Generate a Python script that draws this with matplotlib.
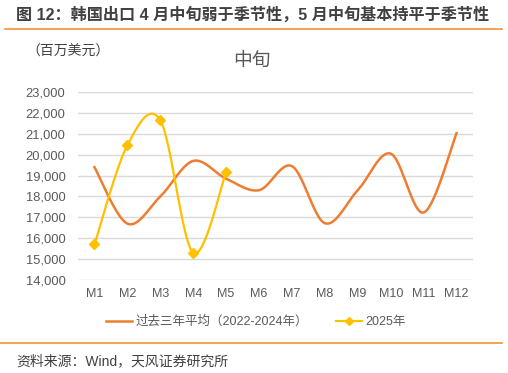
import numpy as np
import matplotlib.pyplot as plt
from matplotlib.lines import Line2D

plt.rcParams['font.family'] = ['Liberation Sans', 'Noto Sans CJK SC', 'DejaVu Sans']

months = ['M1', 'M2', 'M3', 'M4', 'M5', 'M6', 'M7', 'M8', 'M9', 'M10', 'M11', 'M12']
avg_3y = [19400, 16700, 18000, 19700, 18850, 18300, 19450, 16720, 18300, 20050, 17230, 21030]
y2025 = [15700, 20450, 21650, 15300, 19150]


def smooth(y, n=30):
    # excel-like smoothed line (catmull-rom through the points)
    y = np.asarray(y, float)
    x = np.arange(len(y), dtype=float)
    px = np.concatenate([[x[0]], x, [x[-1]]])
    py = np.concatenate([[y[0]], y, [y[-1]]])
    xs, ys = [], []
    for i in range(len(y) - 1):
        p0, p1, p2, p3 = [np.array([px[j], py[j]]) for j in range(i, i + 4)]
        c1 = p1 + (p2 - p0) / 6
        c2 = p2 - (p3 - p1) / 6
        t = np.linspace(0, 1, n)[:, None]
        b = (1 - t) ** 3 * p1 + 3 * (1 - t) ** 2 * t * c1 + 3 * (1 - t) * t ** 2 * c2 + t ** 3 * p2
        xs.append(b[:, 0])
        ys.append(b[:, 1])
    return np.concatenate(xs), np.concatenate(ys)


orange = '#ED7D31'
yellow = '#FFC000'
grey = '#595959'

fig = plt.figure(figsize=(5.08, 3.73), dpi=100)
ax = fig.add_axes([78 / 508, 1 - 280 / 373, 395 / 508, 188 / 373])

sx, sy = smooth(avg_3y)
ax.plot(sx, sy, color=orange, lw=1.8, zorder=3)
sx, sy = smooth(y2025)
ax.plot(sx, sy, color=yellow, lw=1.6, zorder=4)
ax.plot(range(len(y2025)), y2025, ls='none', marker='D', ms=5, color=yellow, zorder=5)

ax.set_xlim(-0.5, 11.5)
ax.set_ylim(14000, 23000)
ax.set_yticks(range(14000, 23001, 1000))
ax.set_yticklabels([f'{v:,}' for v in range(14000, 23001, 1000)])
ax.set_xticks(range(12))
ax.set_xticklabels(months)
ax.grid(axis='y', color='#D9D9D9', lw=1)
ax.set_axisbelow(True)
for s in ax.spines.values():
    s.set_visible(False)
ax.tick_params(length=0, colors=grey)
ax.tick_params(axis='y', labelsize=9.3, pad=9)
ax.tick_params(axis='x', labelsize=9, pad=6)

fig.text(16 / 508, 1 - 15 / 373, '图 12：韩国出口 4 月中旬弱于季节性，5 月中旬基本持平于季节性',
         fontsize=11.6, fontweight='bold', color='#404040', va='center')
fig.add_artist(Line2D([5 / 508, 502 / 508], [1 - 29 / 373] * 2, color='#F4913B', lw=1.2))
fig.text(26 / 508, 1 - 52 / 373, '（百万美元）', family='Noto Sans CJK SC', fontsize=10,
         color='#404040', va='center')
fig.text(252 / 508, 1 - 61 / 373, '中旬', fontsize=13.5, color=grey, va='center', ha='center')

handles = [Line2D([], [], color=orange, lw=1.8),
           Line2D([], [], color=yellow, lw=1.6, marker='D', ms=4)]
fig.legend(handles, ['过去三年平均（2022-2024年）', '2025年'], loc='center',
           bbox_to_anchor=(256 / 508, 1 - 322 / 373), ncol=2, frameon=False,
           fontsize=9, labelcolor=grey, handlelength=2.1, handletextpad=0.3,
           columnspacing=2.2)

fig.add_artist(Line2D([0, 502 / 508], [1 - 343 / 373] * 2, color='#F4913B', lw=1.2))
fig.text(16 / 508, 1 - 361 / 373, '资料来源：Wind，天风证券研究所', fontsize=10,
         color='#404040', va='center')

fig.savefig('out.png', dpi=100)
